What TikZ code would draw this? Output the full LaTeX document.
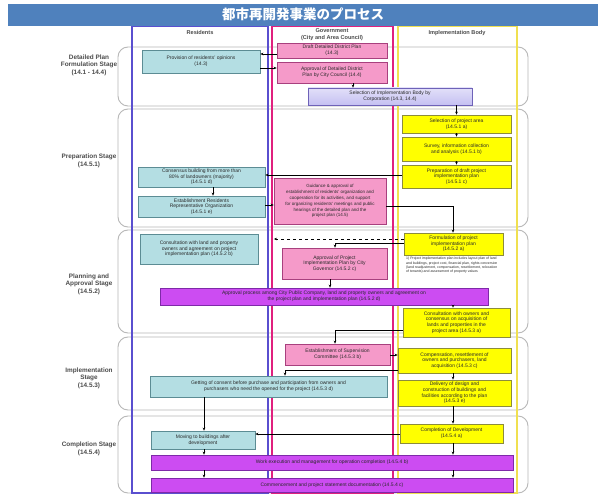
\documentclass[tikz,border=0pt]{standalone}
\usepackage{fontspec}
\setmainfont{Liberation Sans}
\newfontfamily\jpfont{Noto Sans CJK JP}
\usetikzlibrary{shadows,arrows.meta}
\definecolor{titlebar}{HTML}{4F81BD}
\definecolor{tealf}{HTML}{B4DEE3}
\definecolor{teald}{HTML}{5C8C94}
\definecolor{pinkf}{HTML}{F59AC9}
\definecolor{pinkd}{HTML}{A8407E}
\definecolor{lavf}{HTML}{C5C0F2}
\definecolor{lavd}{HTML}{6E62B8}
\definecolor{yelf}{HTML}{FFFF00}
\definecolor{yeld}{HTML}{8C8C3C}
\definecolor{purf}{HTML}{CC4CF2}
\definecolor{purd}{HTML}{7E2AA8}
\definecolor{resc}{HTML}{5A4FCF}
\definecolor{govc}{HTML}{E0207E}
\definecolor{implc}{HTML}{F0E050}
\definecolor{txt}{HTML}{2A2A2A}
\definecolor{stgc}{HTML}{B8B8B8}
\tikzset{
  bx/.style={line width=0.7pt, align=center, inner sep=0.5pt, font=\fontsize{5}{5.6}\selectfont, text=txt,
    drop shadow={shadow xshift=0.8pt, shadow yshift=-0.8pt, opacity=0.3, fill=black}},
  tealbox/.style={bx, fill=tealf, draw=teald},
  pinkbox/.style={bx, fill=pinkf, draw=pinkd},
  lavbox/.style={bx, top color=lavf!50, bottom color=lavf, draw=lavd},
  yelbox/.style={bx, fill=yelf, draw=yeld},
  purbox/.style={bx, fill=purf, draw=purd},
  stg/.style={draw=stgc, line width=0.9pt, rounded corners=10pt},
  lane/.style={line width=1.3pt},
  stagelabel/.style={align=center, font=\fontsize{6.4}{7.4}\selectfont\bfseries, text=black!70},
  hdr/.style={align=center, font=\fontsize{5.6}{7}\selectfont\bfseries, text=black!70},
  arr/.style={-{Stealth[length=3pt,width=2.6pt]}, line width=0.6pt, black}
}
\begin{document}
\begin{tikzpicture}[x=1pt,y=-1pt]
\useasboundingbox (0,0) rectangle (605,494);
\fill[white] (0,0) rectangle (605,494);

% stages
\draw[stg] (118,47) rectangle (528,106);
\draw[stg] (118,109) rectangle (528,227);
\draw[stg] (118,230) rectangle (528,333);
\draw[stg] (118,337) rectangle (528,410);
\draw[stg] (118,416) rectangle (528,493);

\node[stagelabel] (s1) at (89,65) {Detailed Plan\\Formulation Stage\\(14.1 - 14.4)};
\node[stagelabel] (s2) at (89,161) {Preparation Stage\\(14.5.1)};
\node[stagelabel] (s3) at (89,284) {Planning and\\Approval Stage\\(14.5.2)};
\node[stagelabel] (s4) at (89,378) {Implementation\\Stage\\(14.5.3)};
\node[stagelabel] (s5) at (89,449) {Completion Stage\\(14.5.4)};

% lanes
\draw[lane, draw=resc] (132,26) rectangle (268,493);
\draw[lane, draw=govc] (272,26) rectangle (393,493);
\draw[lane, draw=implc] (398,26) rectangle (517,493);

\node[hdr] (h1) at (200,33) {Residents};
\node[hdr] (h2) at (332,35) {Government\\(City and Area Council)};
\node[hdr] (h3) at (457,33) {Implementation Body};

% title
\fill[titlebar] (8,4) rectangle (598,26);
\node[text=white, font=\jpfont\bfseries\fontsize{13.5}{15}\selectfont] (title) at (303,14.5) {都市再開発事業のプロセス};

% boxes
\node[pinkbox, minimum width=110pt, minimum height=15pt] (draft) at (332,50.5) {Draft Detailed District Plan\\(14.3)};
\node[tealbox, minimum width=118pt, minimum height=23pt] (provision) at (201,61.5) {Provision of residents' opinions\\(14.3)};
\node[pinkbox, minimum width=110pt, minimum height=21pt] (approvalDP) at (332,72.5) {Approval of Detailed District\\Plan by City Council (14.4)};
\node[lavbox, minimum width=164pt, minimum height=17pt] (selectBody) at (390,96.5) {Selection of Implementation Body by\\Corporation (14.3, 14.4)};

\node[yelbox, minimum width=109pt, minimum height=18pt] (selArea) at (456.5,124) {Selection of project area\\(14.5.1 a)};
\node[yelbox, minimum width=109pt, minimum height=24pt] (survey) at (456.5,149) {Survey, information collection\\and analysis (14.5.1 b)};
\node[yelbox, minimum width=109pt, minimum height=23pt] (prep) at (456.5,176.5) {Preparation of draft project\\implementation plan\\(14.5.1 c)};
\node[tealbox, minimum width=127pt, minimum height=20pt] (consensus) at (201.5,177) {Consensus building from more than\\80\% of landowners (majority)\\(14.5.1 d)};
\node[tealbox, minimum width=127pt, minimum height=21pt] (establish) at (201.5,206.5) {Establishment Residents\\Representative Organization\\(14.5.1 e)};
\node[pinkbox, minimum width=112pt, minimum height=46pt, font=\fontsize{4.5}{5.9}\selectfont] (guidance) at (330,201) {Guidance \& approval of\\establishment of residents' organization and\\cooperation for its activities, and support\\for organizing residents' meetings and public\\hearings of the detailed plan and the\\project plan (14.5)};

\node[tealbox, minimum width=118pt, minimum height=30pt] (consult) at (199,249) {Consultation with land and property\\owners and agreement on project\\implementation plan (14.5.2 b)};
\node[yelbox, minimum width=99pt, minimum height=22pt] (formulation) at (453.5,244) {Formulation of project\\implementation plan\\(14.5.2 a)};
\node[anchor=north west, align=left, inner sep=0pt, font=\fontsize{3.5}{4.4}\selectfont, text=txt] (note) at (406,257) {1) Project implementation plan includes layout plan of land\\and buildings, project cost, financial plan, rights conversion\\(land readjustment, compensation, resettlement, relocation\\of tenants) and assessment of property values};
\node[pinkbox, minimum width=105pt, minimum height=31pt] (approvalPIP) at (334.5,263.5) {Approval of Project\\Implementation Plan by City\\Governor (14.5.2 c)};
\node[purbox, minimum width=328pt, minimum height=17pt] (span) at (324,296.5) {Approval process among City Public Company, land and property owners and agreement on\\the project plan and implementation plan (14.5.2 d)};
\node[yelbox, minimum width=107pt, minimum height=29pt] (consultY) at (456.5,322.5) {Consultation with owners and\\consensus on acquisition of\\lands and properties in the\\project area (14.5.3 a)};

\node[pinkbox, minimum width=105pt, minimum height=21pt] (supervision) at (337.5,354.5) {Establishment of Supervision\\Committee (14.5.3 b)};
\node[yelbox, minimum width=113pt, minimum height=25pt] (compensation) at (454.5,360.5) {Compensation, resettlement of\\owners and purchasers, land\\acquisition (14.5.3 c)};
\node[tealbox, minimum width=237pt, minimum height=21pt] (getting) at (268.5,386.5) {Getting of consent before purchase and participation from owners and\\purchasers who need the opened for the project (14.5.3 d)};
\node[yelbox, minimum width=113pt, minimum height=26pt] (delivery) at (454.5,393) {Delivery of design and\\construction of buildings and\\facilities according to the plan\\(14.5.3 e)};

\node[yelbox, minimum width=103pt, minimum height=19pt] (completion) at (451.5,433.5) {Completion of Development\\(14.5.4 a)};
\node[tealbox, minimum width=104pt, minimum height=18pt] (moving) at (203,440) {Moving to buildings after\\development};
\node[purbox, minimum width=362pt, minimum height=15pt] (work) at (332,462.5) {Work execution and management for operation completion (14.5.4 b)};
\node[purbox, minimum width=362pt, minimum height=14pt] (commence) at (332,485) {Commencement and project statement documentation (14.5.4 c)};

% arrows
\draw[arr] (draft.west |- 0,54) -- (provision.east |- 0,54);
\draw[arr] (provision.east |- 0,68) -- (approvalDP.west |- 0,68);
\draw[arr] (353,0 |- approvalDP.south) -- (353,0 |- selectBody.north);
\draw[arr] (456.5,0 |- selectBody.south) -- (selArea.north);
\draw[arr] (selArea.south) -- (survey.north);
\draw[arr] (survey.south) -- (prep.north);
\draw[arr] (prep.west |- 0,175) -- (consensus.east |- 0,175);
\draw[arr] (213,0 |- consensus.south) -- (213,0 |- establish.north);
\draw[arr] (establish.east |- 0,205) -- (guidance.west |- 0,205);
\draw[arr] (guidance.east |- 0,206) -| (453,0 |- formulation.north);
\coordinate (dashend) at (274,239);
\draw[arr, dashed] (formulation.west |- 0,239) -- (dashend);
\draw[arr] (formulation.west |- 0,243) -| (335,0 |- approvalPIP.north);
\draw[arr] (330,0 |- approvalPIP.south) -- (330,0 |- span.north);
\draw[arr] (453,0 |- span.south) -- (453,0 |- consultY.north);
\draw[arr] (consultY.west |- 0,330) -| (335,0 |- supervision.north);
\draw[arr] (supervision.east |- 0,355) -- (compensation.west |- 0,355);
\draw[arr] (compensation.west |- 0,370) -| (285,0 |- getting.north);
\draw[arr] (453,0 |- compensation.south) -- (453,0 |- delivery.north);
\draw[arr] (204,0 |- getting.south) -- (204,0 |- moving.north);
\draw[arr] (453,0 |- delivery.south) -- (453,0 |- completion.north);
\draw[arr] (completion.west |- 0,434) -- (moving.east |- 0,434);
\draw[arr] (453,0 |- completion.south) -- (453,0 |- work.north);
\draw[arr] (204,0 |- moving.south) -- (204,0 |- work.north);
\draw[arr] (453,0 |- work.south) -- (453,0 |- commence.north);
\draw[arr] (204,0 |- work.south) -- (204,0 |- commence.north);
\end{tikzpicture}
\end{document}
